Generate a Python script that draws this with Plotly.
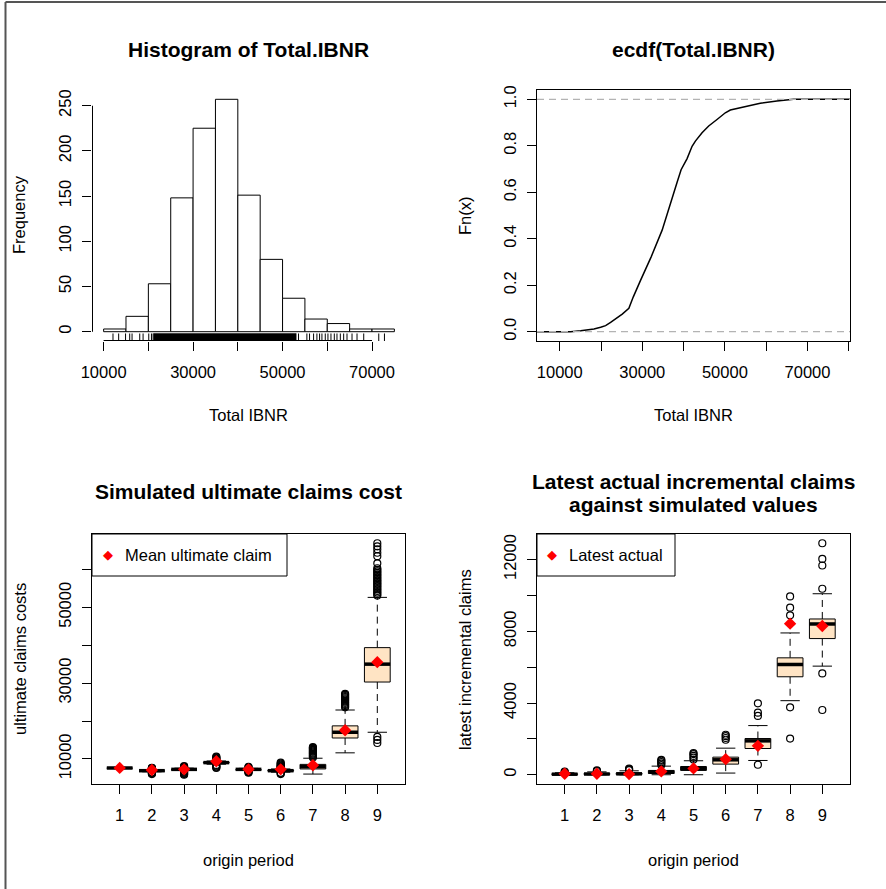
import plotly.graph_objects as go

W, H = 886, 889
FONT = "Liberation Sans, Arial, sans-serif"

# ---------------- data ----------------
hist_breaks = [10000, 15000, 20000, 25000, 30000, 35000, 40000, 45000,
               50000, 55000, 60000, 65000, 70000, 75000]
hist_counts = [3, 17, 53, 148, 225, 257, 151, 80, 37, 14, 9, 3, 3]
hist_xticks = [10000, 20000, 30000, 40000, 50000, 60000, 70000]
hist_xlabels = ["10000", "", "30000", "", "50000", "", "70000"]
hist_yticks = [0, 50, 100, 150, 200, 250]

rug_values = [12093, 13363, 14900, 15830, 16353, 18072, 18819, 20090, 20688,
              21062, 53573, 55442, 56040, 56937, 57684, 58282, 58805, 59553,
              60150, 60823, 61570, 62169, 62916, 63664, 64411, 65532, 66653,
              68148, 71511, 72782]
rug_dense = [21200, 53050]

ecdf_x = [4000, 12658, 15074, 18296, 19906, 21115, 22323, 23933, 25142, 26752,
          27799, 29571, 32149, 34806, 36014, 37867, 38431, 39397, 40847, 42055,
          42860, 44471, 46082, 48095, 50109, 51317, 52928, 55344, 58566, 62593,
          66620, 82000]
ecdf_y = [0.0, 0.0, 0.0043, 0.0115, 0.0188, 0.026, 0.040, 0.059, 0.076, 0.101,
          0.149, 0.221, 0.322, 0.437, 0.509, 0.612, 0.643, 0.697, 0.745, 0.798,
          0.820, 0.856, 0.885, 0.913, 0.942, 0.954, 0.960, 0.971, 0.983, 0.993,
          1.0, 1.0]
ecdf_xticks = [10000, 20000, 30000, 40000, 50000, 60000, 70000, 80000]
ecdf_xlabels = ["10000", "", "30000", "", "50000", "", "70000", ""]
ecdf_yticks = [0, 0.2, 0.4, 0.6, 0.8, 1.0]
ecdf_ylabels = ["0.0", "0.2", "0.4", "0.6", "0.8", "1.0"]

origins = [1, 2, 3, 4, 5, 6, 7, 8, 9]

ult_q1 = [7560, 6800, 7150, 8900, 7150, 6780, 7350, 15516, 30285]
ult_med = [7600, 6890, 7240, 9020, 7240, 6890, 7950, 17029, 35000]
ult_q3 = [7640, 6980, 7330, 9140, 7330, 7020, 8550, 18719, 39360]
ult_lo = [7500, 6600, 6950, 8600, 6950, 6500, 5996, 11601, 17029]
ult_hi = [7700, 7180, 7550, 9450, 7500, 7350, 10178, 22901, 52617]
ult_out = [
    [],
    [6000, 6150, 6300, 6450, 7250, 7350, 7450, 7550, 7650],
    [5820, 6000, 6200, 6400, 6600, 6800, 7650, 7800, 7950, 8100],
    [7600, 7800, 8000, 8200, 8400, 9600, 9800, 10000, 10200, 10400, 10620],
    [6350, 6500, 6650, 6800, 7600, 7750, 7900],
    [6000, 6200, 6350, 7450, 7600, 7750, 7900, 8050, 8250, 8500, 8750, 9020],
    [10400, 10650, 10900, 11150, 11400, 11650, 11900, 12150, 12400, 12650,
     12900, 13100],
    [23600, 23900, 24200, 24500, 24800, 25100, 25400, 25700, 26000, 26300,
     26600, 26900, 27170],
    [14200, 15000, 15800, 53100, 53500, 53900, 54300, 54700, 55100, 55500,
     55900, 56300, 56700, 57100, 57500, 57900, 58300, 58700, 59100, 59500,
     59900, 60300, 61600, 63500, 64400, 65300, 66100, 66900],
]
ult_mean = [7620, 7060, 7242, 9377, 7242, 7242, 8310, 17562, 35534]
ult_yticks = [10000, 20000, 30000, 40000, 50000, 60000]
ult_ylabels = ["10000", "", "30000", "", "50000", ""]

inc_q1 = [10, 15, 15, 70, 240, 593, 1463, 5463, 7593]
inc_med = [30, 40, 50, 150, 350, 833, 1889, 6148, 8407]
inc_q3 = [55, 75, 100, 240, 460, 981, 2019, 6519, 8686]
inc_lo = [0, 0, 0, 0, 0, 93, 796, 4130, 6056]
inc_hi = [110, 160, 220, 480, 780, 1482, 2741, 7907, 10093]
inc_out = [
    [140, 180],
    [200, 240],
    [260, 300, 340],
    [540, 620, 700, 780, 830],
    [850, 950, 1050, 1150, 1200],
    [1950, 2050, 2150, 2230],
    [556, 3280, 3463, 3982],
    [2019, 3759, 8890, 9315, 9945],
    [3611, 5648, 10370, 11667, 12037, 12908],
]
inc_actual = [56, 56, 37, 185, 352, 870, 1611, 8426, 8296]
inc_yticks = [0, 2000, 4000, 6000, 8000, 10000, 12000]
inc_ylabels = ["0", "", "4000", "", "8000", "", "12000"]

# ---------------- helpers ----------------
def fx(p):
    return p / W


def fy(p):
    return 1 - p / H


def r_range(lo, hi):
    d = (hi - lo) * 0.04
    return [lo - d, hi + d]


fig = go.Figure()

# ---------------- panel 1: histogram ----------------
h_xr = r_range(hist_breaks[0], hist_breaks[-1])
h_yr = r_range(0, max(hist_counts))
centers = [(a + b) / 2 for a, b in zip(hist_breaks[:-1], hist_breaks[1:])]
widths = [b - a for a, b in zip(hist_breaks[:-1], hist_breaks[1:])]
fig.add_trace(go.Bar(x=centers, y=hist_counts, width=widths,
                     marker=dict(color="white", line=dict(color="black", width=1)),
                     xaxis="x", yaxis="y"))

rug_top = h_yr[0] + 0.03 * (h_yr[1] - h_yr[0])
rx, ry = [], []
for v in rug_values:
    rx += [v, v, None]
    ry += [h_yr[0], rug_top, None]
fig.add_trace(go.Scatter(x=rx, y=ry, mode="lines",
                         line=dict(color="black", width=1), xaxis="x", yaxis="y"))
fig.add_trace(go.Scatter(x=[rug_dense[0], rug_dense[1], rug_dense[1], rug_dense[0], rug_dense[0]],
                         y=[h_yr[0], h_yr[0], rug_top, rug_top, h_yr[0]],
                         mode="lines", fill="toself", fillcolor="black",
                         line=dict(color="black", width=0.5), xaxis="x", yaxis="y"))
# R-style detached axis lines
fig.add_trace(go.Scatter(x=[hist_xticks[0], hist_xticks[-1]], y=[h_yr[0], h_yr[0]],
                         mode="lines", line=dict(color="black", width=2),
                         xaxis="x", yaxis="y"))
fig.add_trace(go.Scatter(x=[h_xr[0], h_xr[0]], y=[hist_yticks[0], hist_yticks[-1]],
                         mode="lines", line=dict(color="black", width=2),
                         xaxis="x", yaxis="y"))

# ---------------- panel 2: ecdf ----------------
e_xr = [4500, 80300]
e_yr = r_range(0, 1)
fig.add_trace(go.Scatter(x=ecdf_x, y=ecdf_y, mode="lines",
                         line=dict(color="black", width=1.5), xaxis="x2", yaxis="y2"))
for lvl in (0, 1):
    fig.add_trace(go.Scatter(x=[e_xr[0], e_xr[1]], y=[lvl, lvl], mode="lines",
                             line=dict(color="#b3b3b3", width=1.2, dash="7px,5px"),
                             xaxis="x2", yaxis="y2"))


# ---------------- box plots ----------------
def add_boxes(xa, ya, q1, med, q3, lo, hi, outs, means, mean_color="red"):
    hw = 0.4
    sw = 0.3
    wx, wy, sx, sy, bx, by, mx, my, ox, oy = [], [], [], [], [], [], [], [], [], []
    for i, x in enumerate(origins):
        wx += [x, x, None, x, x, None]
        wy += [q3[i], hi[i], None, q1[i], lo[i], None]
        sx += [x - sw, x + sw, None, x - sw, x + sw, None]
        sy += [hi[i], hi[i], None, lo[i], lo[i], None]
        bx += [x - hw, x + hw, x + hw, x - hw, x - hw, None]
        by += [q1[i], q1[i], q3[i], q3[i], q1[i], None]
        mx += [x - hw, x + hw, None]
        my += [med[i], med[i], None]
        for v in outs[i]:
            ox.append(x)
            oy.append(v)
    fig.add_trace(go.Scatter(x=wx, y=wy, mode="lines",
                             line=dict(color="black", width=1, dash="7px,5px"),
                             xaxis=xa, yaxis=ya))
    fig.add_trace(go.Scatter(x=sx, y=sy, mode="lines",
                             line=dict(color="black", width=1), xaxis=xa, yaxis=ya))
    fig.add_trace(go.Scatter(x=bx, y=by, mode="lines", fill="toself",
                             fillcolor="#FFE4C4", line=dict(color="black", width=1),
                             xaxis=xa, yaxis=ya))
    fig.add_trace(go.Scatter(x=mx, y=my, mode="lines",
                             line=dict(color="black", width=3.5), xaxis=xa, yaxis=ya))
    fig.add_trace(go.Scatter(x=ox, y=oy, mode="markers",
                             marker=dict(symbol="circle-open", size=7,
                                         color="black", line=dict(width=1.2)),
                             xaxis=xa, yaxis=ya))
    fig.add_trace(go.Scatter(x=origins, y=means, mode="markers",
                             marker=dict(symbol="diamond", size=9.5, color=mean_color),
                             xaxis=xa, yaxis=ya))


b_xr = r_range(0.5, 9.5)
add_boxes("x3", "y3", ult_q1, ult_med, ult_q3, ult_lo, ult_hi, ult_out, ult_mean)
add_boxes("x4", "y4", inc_q1, inc_med, inc_q3, inc_lo, inc_hi, inc_out, inc_actual)

all_ult = [v for o in ult_out for v in o] + ult_lo + ult_hi
u_yr = r_range(min(all_ult), max(all_ult))
all_inc = [v for o in inc_out for v in o] + inc_lo + inc_hi
i_yr = r_range(min(all_inc), max(all_inc))

# ---------------- axes ----------------
tickfont = dict(family=FONT, size=16.5, color="black")
common = dict(showgrid=False, zeroline=False, ticks="outside", ticklen=9,
              tickwidth=1, tickcolor="black", tickfont=tickfont, automargin=False)
xc = dict(ticklabelstandoff=7, **common)
yc = dict(ticklabelstandoff=4, tickangle=-90, **common)
boxed = dict(showline=True, linecolor="black", linewidth=1, mirror=True)

fig.update_layout(
    xaxis=dict(domain=[fx(92), fx(406)], range=h_xr, anchor="y",
               tickvals=hist_xticks, ticktext=hist_xlabels, showline=False, **xc),
    yaxis=dict(domain=[fy(341), fy(90)], range=h_yr, anchor="x",
               tickvals=hist_yticks, showline=False, **yc),
    xaxis2=dict(domain=[fx(537), fx(850)], range=e_xr, anchor="y2",
                tickvals=ecdf_xticks, ticktext=ecdf_xlabels, **boxed, **xc),
    yaxis2=dict(domain=[fy(341), fy(90)], range=e_yr, anchor="x2",
                tickvals=ecdf_yticks, ticktext=ecdf_ylabels, **boxed, **yc),
    xaxis3=dict(domain=[fx(92), fx(405)], range=b_xr, anchor="y3",
                tickvals=origins, **boxed, **xc),
    yaxis3=dict(domain=[fy(784), fy(534)], range=u_yr, anchor="x3",
                tickvals=ult_yticks, ticktext=ult_ylabels, **boxed, **yc),
    xaxis4=dict(domain=[fx(537), fx(850)], range=b_xr, anchor="y4",
                tickvals=origins, **boxed, **xc),
    yaxis4=dict(domain=[fy(784), fy(534)], range=i_yr, anchor="x4",
                tickvals=inc_yticks, ticktext=inc_ylabels, **boxed, **yc),
)

# ---------------- text ----------------
ann = []


def text(s, x, y, size=16.5, bold=False, angle=0, xanchor="center", color="black"):
    ann.append(dict(text=("<b>%s</b>" % s) if bold else s, x=fx(x), y=fy(y),
                    xref="paper", yref="paper", showarrow=False, textangle=angle,
                    xanchor=xanchor, yanchor="middle",
                    font=dict(family=FONT, size=size, color=color)))


text("Histogram of Total.IBNR", 249, 50, 21, True)
text("ecdf(Total.IBNR)", 693, 50, 21, True)
text("Simulated ultimate claims cost", 248, 492, 21, True)
text("Latest actual incremental claims", 693, 481, 21, True)
text("against simulated values", 693, 505, 21, True)
text("Total IBNR", 249, 415)
text("Total IBNR", 693, 415)
text("Frequency", 19, 215, angle=-90)
text("Fn(x)", 465, 215, angle=-90)
text("ultimate claims costs", 20, 659, angle=-90)
text("latest incremental claims", 465, 659, angle=-90)
text("origin period", 249, 860)
text("origin period", 693, 860)
# legends
text("Mean ultimate claim", 123, 555, xanchor="left")
text("Latest actual", 567, 555, xanchor="left")
text("\u25C6", 108, 554, size=13, color="red")
text("\u25C6", 552, 554, size=13, color="red")

shapes = [
    dict(type="rect", xref="paper", yref="paper", x0=fx(92), x1=fx(287),
         y0=fy(576), y1=fy(534), line=dict(color="black", width=1)),
    dict(type="rect", xref="paper", yref="paper", x0=fx(537), x1=fx(675),
         y0=fy(576), y1=fy(534), line=dict(color="black", width=1)),
    dict(type="line", xref="paper", yref="paper", x0=fx(5.5), x1=fx(5.5),
         y0=fy(2), y1=fy(889), line=dict(color="#555555", width=2)),
    dict(type="line", xref="paper", yref="paper", x0=fx(5.5), x1=fx(886),
         y0=fy(2), y1=fy(2), line=dict(color="#555555", width=2)),
]

fig.update_layout(width=W, height=H,
                  margin=dict(l=0, r=0, t=0, b=0, pad=0, autoexpand=False),
                  paper_bgcolor="white", plot_bgcolor="white",
                  showlegend=False, annotations=ann, shapes=shapes,
                  font=dict(family=FONT, color="black"))

fig.write_html("out.html", config={"displayModeBar": False},
               post_script="document.body.style.margin='0';document.body.style.overflow='hidden';")
